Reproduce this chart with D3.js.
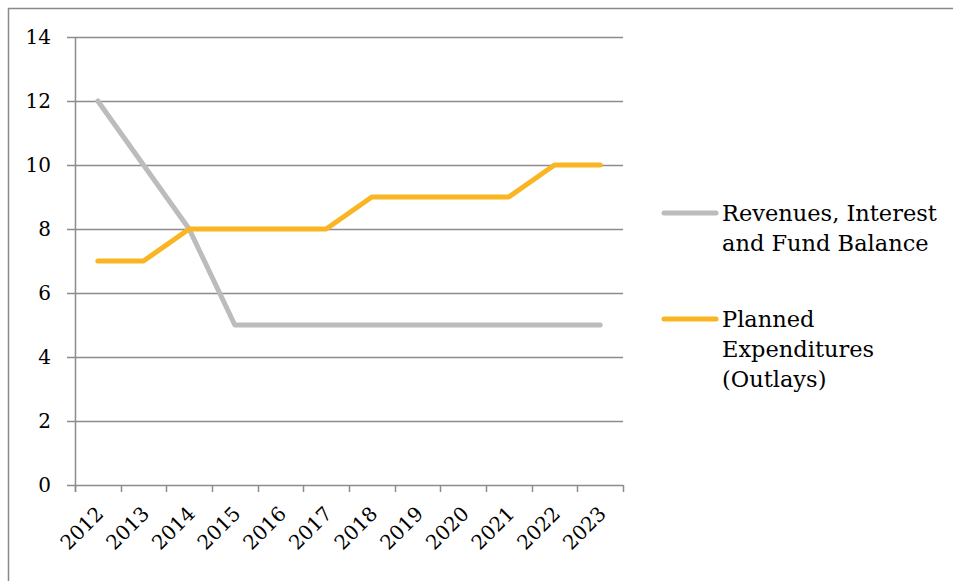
<!DOCTYPE html>
<html>
<head>
<meta charset="utf-8">
<script src="https://cdn.jsdelivr.net/npm/d3@7"></script>
<style>
  html, body { margin: 0; padding: 0; background: #fff; }
  svg { display: block; }
  text { font-family: "DejaVu Serif", Georgia, serif; fill: #000; }
</style>
</head>
<body>
<svg id="chart" width="953" height="581"></svg>
<script>
const years = ["2012","2013","2014","2015","2016","2017","2018","2019","2020","2021","2022","2023"];
const revenues = [12, 10, 8, 5, 5, 5, 5, 5, 5, 5, 5, 5];
const planned = [7, 7, 8, 8, 8, 8, 9, 9, 9, 9, 10, 10];
const yTicks = [0, 2, 4, 6, 8, 10, 12, 14];
const seriesNames = [["Revenues, Interest", "and Fund Balance"], ["Planned", "Expenditures", "(Outlays)"]];
const seriesColors = ["#bcbcbc", "#f9b522"];

const svg = d3.select("#chart");

// outer frame (top and left edges visible)
svg.append("line").attr("x1", 8).attr("x2", 953).attr("y1", 8.5).attr("y2", 8.5)
  .attr("stroke", "#8a8a8a").attr("stroke-width", 1.5);
svg.append("line").attr("x1", 8.5).attr("x2", 8.5).attr("y1", 8).attr("y2", 581)
  .attr("stroke", "#8a8a8a").attr("stroke-width", 1.5);

const plotLeft = 75, plotRight = 623, plotTop = 37, plotBottom = 485;

const x = d3.scaleBand().domain(years).range([plotLeft, plotRight]).padding(0);
const y = d3.scaleLinear().domain([0, 14]).range([plotBottom, plotTop]);

// horizontal gridlines with short left ticks
svg.append("g").selectAll("line").data(yTicks).join("line")
  .attr("x1", plotLeft - 8).attr("x2", plotRight)
  .attr("y1", d => Math.round(y(d)) + 0.5).attr("y2", d => Math.round(y(d)) + 0.5)
  .attr("stroke", "#8c8c8c").attr("stroke-width", 1.5);

// y tick labels
svg.append("g").selectAll("text").data(yTicks).join("text")
  .attr("x", 51).attr("y", d => y(d))
  .attr("dy", "0.35em").attr("text-anchor", "end")
  .attr("font-size", 20).text(d => d);

// vertical axis line
svg.append("line").attr("x1", plotLeft + 0.5).attr("x2", plotLeft + 0.5).attr("y1", plotTop).attr("y2", plotBottom + 7)
  .attr("stroke", "#8c8c8c").attr("stroke-width", 1.5);

// x-axis tick marks at category boundaries
const bounds = years.map(d => x(d)).concat([plotRight]);
svg.append("g").selectAll("line").data(bounds).join("line")
  .attr("x1", d => Math.round(d) + 0.5).attr("x2", d => Math.round(d) + 0.5)
  .attr("y1", plotBottom).attr("y2", plotBottom + 7)
  .attr("stroke", "#8c8c8c").attr("stroke-width", 1.5);

// rotated x labels
svg.append("g").selectAll("text").data(years).join("text")
  .attr("text-anchor", "end")
  .attr("font-size", 20)
  .attr("transform", d => `translate(${x(d) + x.bandwidth() / 2 + 7},${plotBottom + 30}) rotate(-45)`)
  .text(d => d);

// series lines
const line = d3.line()
  .x((d, i) => x(years[i]) + x.bandwidth() / 2)
  .y(d => y(d));

[revenues, planned].forEach((s, k) => {
  svg.append("path").datum(s)
    .attr("d", line)
    .attr("fill", "none")
    .attr("stroke", seriesColors[k])
    .attr("stroke-width", 5)
    .attr("stroke-linejoin", "round")
    .attr("stroke-linecap", "round");
});

// legend
const legendY = [213, 319];
seriesNames.forEach((lines, k) => {
  const g = svg.append("g");
  g.append("line").attr("x1", 664).attr("x2", 716)
    .attr("y1", legendY[k]).attr("y2", legendY[k])
    .attr("stroke", seriesColors[k]).attr("stroke-width", 5).attr("stroke-linecap", "round");
  lines.forEach((t, j) => {
    g.append("text").attr("x", 722).attr("y", legendY[k] + j * 30)
      .attr("dy", "0.35em").attr("font-size", 22.5).text(t);
  });
});
</script>
</body>
</html>
